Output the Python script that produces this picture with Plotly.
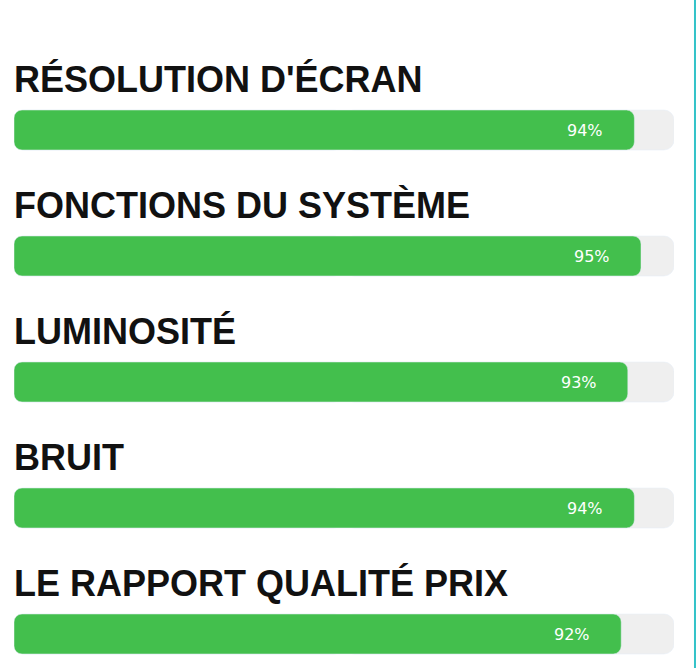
import plotly.graph_objects as go

categories = ["RÉSOLUTION D'ÉCRAN", "FONCTIONS DU SYSTÈME", "LUMINOSITÉ", "BRUIT",
              "LE RAPPORT QUALITÉ PRIX"]
scores = [94, 95, 93, 94, 92]
full = 100

pos = list(range(len(categories)))
green = "#43bf4d"
track = "#efefef"

fig = go.Figure()

# fond gris, en deux moitiés pour arrondir les deux bouts
fig.add_trace(go.Bar(y=pos, x=[full / 2] * len(pos), base=[full / 2] * len(pos),
                     orientation="h", width=0.317, marker=dict(color=track, cornerradius=10),
                     hoverinfo="skip", showlegend=False))
fig.add_trace(go.Bar(y=pos, x=[-full / 2] * len(pos), base=[full / 2] * len(pos),
                     orientation="h", width=0.317, marker=dict(color=track, cornerradius=10),
                     hoverinfo="skip", showlegend=False))
# barre verte : base à la valeur, longueur négative -> coin arrondi à gauche
fig.add_trace(go.Bar(y=pos, x=[-s for s in scores], base=scores,
                     orientation="h", width=0.317, marker=dict(color=green, cornerradius=8),
                     hovertext=[f"{s}%" for s in scores], hoverinfo="text", showlegend=False))

for p, cat, s in zip(pos, categories, scores):
    fig.add_annotation(x=0, y=p, text=cat, showarrow=False, xanchor="left", yanchor="bottom",
                       yshift=28, xshift=-2,
                       font=dict(family="Liberation Sans, Arial", size=36, color="#111111",
                                 weight="bold"))
    fig.add_annotation(x=s, y=p, text=f"{s}%", showarrow=False, xanchor="right",
                       xshift=-29, font=dict(family="DejaVu Sans", size=16, color="white"))

# trait turquoise au bord droit de la page
fig.add_shape(type="line", xref="paper", yref="paper", x0=1.0318, x1=1.0318, y0=0, y1=1,
              line=dict(color="#33c3c9", width=2))

fig.update_layout(
    width=696, height=668,
    margin=dict(l=14, r=22, t=0, b=0),
    barmode="overlay",
    plot_bgcolor="white", paper_bgcolor="white",
    xaxis=dict(range=[0, full], visible=False, fixedrange=True),
    yaxis=dict(range=[538 / 126, -130 / 126], visible=False, fixedrange=True),
)

# pas de marge autour de la figure dans la page
fig.write_html("out.html", config={"displayModeBar": False},
               post_script="document.body.style.margin = '0';")
